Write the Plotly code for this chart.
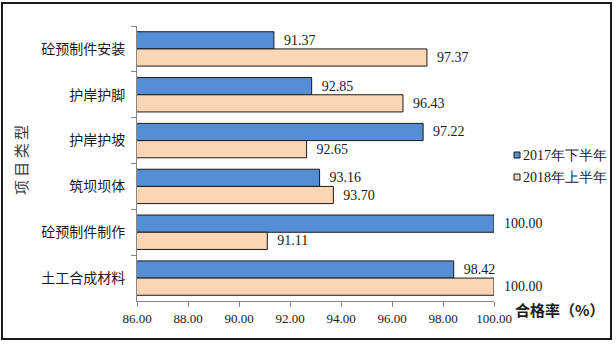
import plotly.graph_objects as go

categories = ["砼预制件安装", "护岸护脚", "护岸护坡", "筑坝坝体", "砼预制件制作", "土工合成材料"]
h2_2017 = [91.37, 92.85, 97.22, 93.16, 100.00, 98.42]
h1_2018 = [97.37, 96.43, 92.65, 93.70, 91.11, 100.00]
series_names = ["2017年下半年", "2018年上半年"]
series_colors = ["#558ED5", "#FCD5B5"]
x_ticks = [86, 88, 90, 92, 94, 96, 98, 100]

serif = "Liberation Serif, Times New Roman, serif"
sans = "Noto Sans CJK SC, sans-serif"
ink = "#1a1a1a"

fig = go.Figure()
for name, vals, color in zip(series_names, [h2_2017, h1_2018], series_colors):
    fig.add_trace(go.Bar(
        y=categories, x=vals, name=name, orientation="h",
        marker=dict(color=color, line=dict(color=ink, width=1)),
        text=["\u00a0\u00a0" + f"{v:.2f}" for v in vals],
        textposition="outside",
        textfont=dict(family=serif, size=14, color=ink),
        cliponaxis=False, showlegend=False,
    ))

W, H = 616, 344
L, R, T, B = 137, 122, 26, 43
pw, ph = W - L - R, H - T - B

def px(x):
    return (x - L) / pw

def py(y):
    return (H - B - y) / ph

# legend drawn as small outlined squares beside the series names
shapes = [dict(type="rect", xref="paper", yref="paper",
               x0=px(2), x1=px(611), y0=py(339), y1=py(3),
               line=dict(color=ink, width=2))]
annotations = []
for i, (name, color) in enumerate(zip(series_names, series_colors)):
    cy = 155 + i * 22
    shapes.append(dict(type="rect", xref="paper", yref="paper",
                       x0=px(514), x1=px(520), y0=py(cy + 3), y1=py(cy - 3),
                       fillcolor=color, line=dict(color=ink, width=1)))
    annotations.append(dict(text=name, xref="paper", yref="paper",
                            x=px(521), y=py(cy), xanchor="left", yanchor="middle",
                            showarrow=False,
                            font=dict(family=serif, size=14, color=ink)))

annotations += [
    dict(text="合格率（%）", xref="paper", yref="paper",
         x=px(559), y=py(309), xanchor="center", yanchor="middle",
         showarrow=False,
         font=dict(family=sans, size=15, color=ink, weight="bold")),
    dict(text="项 目 类 型", xref="paper", yref="paper",
         x=px(20), y=py(160), xanchor="center", yanchor="middle",
         showarrow=False, textangle=-90,
         font=dict(family=sans, size=15, color="#404040")),
]

fig.update_layout(
    width=W, height=H,
    margin=dict(l=L, r=R, t=T, b=B, autoexpand=False),
    paper_bgcolor="white", plot_bgcolor="white",
    barmode="group", bargap=0.25, bargroupgap=0,
    showlegend=False,
    xaxis=dict(range=[86, 100], tickvals=x_ticks,
               ticktext=[f"{v:.2f}" for v in x_ticks],
               showline=True, linecolor="#868686", linewidth=1,
               ticks="outside", ticklen=5, tickcolor="#868686",
               showgrid=False, zeroline=False, automargin=False,
               tickfont=dict(family=serif, size=13, color=ink)),
    yaxis=dict(autorange="reversed", showline=True, linecolor="#868686",
               linewidth=1, ticks="outside", tickson="boundaries",
               ticklen=5, tickcolor="#868686", showgrid=False,
               automargin=False, ticklabelstandoff=8,
               tickfont=dict(family=sans, size=14, color=ink)),
    annotations=annotations,
    shapes=shapes,
)

fig.write_html("out.html")
